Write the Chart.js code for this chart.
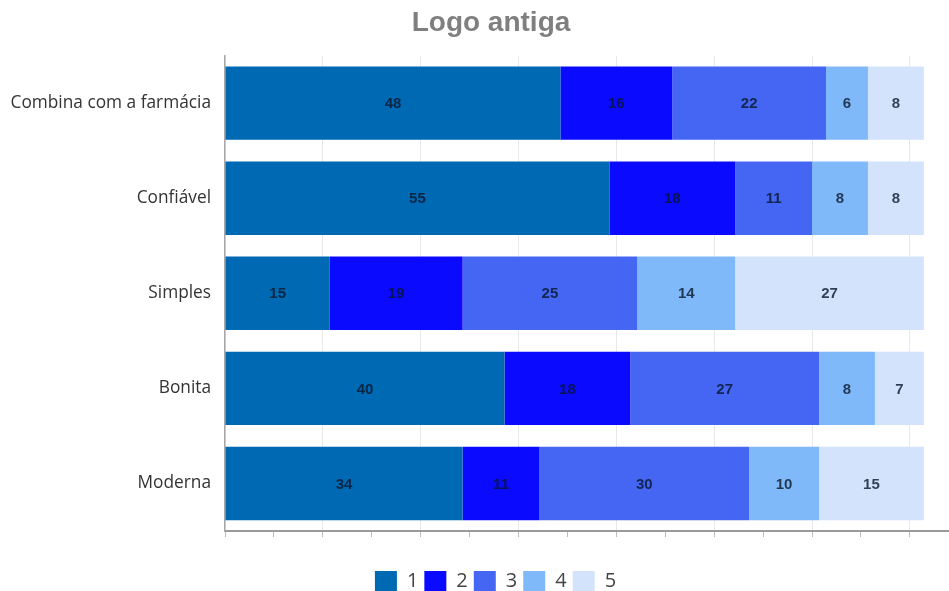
<!DOCTYPE html>
<html>
<head>
<meta charset="utf-8">
<title>Logo antiga</title>
<script src="https://cdn.jsdelivr.net/npm/chart.js@4.4.1/dist/chart.umd.min.js"></script>
<style>
    html, body { margin: 0; padding: 0; background: #ffffff; overflow: hidden; }
    #wrap { position: absolute; left: 0; top: 0; width: 949px; height: 602px; }
</style>
</head>
<body>
<div id="wrap"><canvas id="logoChart"></canvas></div>
<script>
// Survey answers (1..5) per attribute, in percent
const categories = ['Combina com a farmácia', 'Confiável', 'Simples', 'Bonita', 'Moderna'];
const score1 = [48, 55, 15, 40, 34];
const score2 = [16, 18, 19, 18, 11];
const score3 = [22, 11, 25, 27, 30];
const score4 = [6, 8, 14, 8, 10];
const score5 = [8, 8, 27, 7, 15];
const seriesLabels = ['1', '2', '3', '4', '5'];
const seriesColors = ['#0069b4', '#0a0aff', '#4466f2', '#80b9fa', '#d3e3fb'];
const xTicks = [0, 7, 14, 21, 28, 35, 42, 49, 56, 63, 70, 77, 84, 91, 98];

// Value labels in the middle of every segment
const segmentLabels = {
    id: 'segmentLabels',
    afterDatasetsDraw(chart) {
        const ctx = chart.ctx;
        ctx.save();
        ctx.font = 'bold 15px "Liberation Sans", Arial, sans-serif';
        ctx.fillStyle = 'rgba(8, 22, 42, 0.8)';
        ctx.textAlign = 'center';
        ctx.textBaseline = 'middle';
        chart.data.datasets.forEach((ds, i) => {
            const meta = chart.getDatasetMeta(i);
            meta.data.forEach((bar, j) => {
                const cx = (bar.x + bar.base) / 2;
                ctx.fillText(ds.data[j], cx, bar.y + 1);
            });
        });
        ctx.restore();
    }
};

// Title and legend are centred a little right of the canvas middle
const shiftBlocks = {
    id: 'shiftBlocks',
    afterLayout(chart) {
        if (chart.titleBlock) chart.titleBlock.left += 33;
        if (chart.legend) chart.legend.left += 42;
    }
};

const datasets = [score1, score2, score3, score4, score5].map((values, i) => ({
    label: seriesLabels[i],
    data: values,
    backgroundColor: seriesColors[i],
    borderWidth: 0,
    barPercentage: 0.772,
    categoryPercentage: 1
}));

new Chart(document.getElementById('logoChart'), {
    type: 'bar',
    data: { labels: categories, datasets: datasets },
    plugins: [segmentLabels, shiftBlocks],
    options: {
        indexAxis: 'y',
        responsive: true,
        maintainAspectRatio: false,
        animation: false,
        layout: { padding: 0 },
        plugins: {
            title: {
                display: true,
                text: 'Logo antiga',
                color: '#7f7f7f',
                font: { family: '"Liberation Sans", Arial, sans-serif', size: 28, weight: 'bold' },
                padding: { top: 6, bottom: 16 }
            },
            legend: {
                position: 'bottom',
                labels: {
                    boxWidth: 22,
                    boxHeight: 21,
                    padding: 6,
                    color: '#444444',
                    font: { family: '"Open Sans", sans-serif', size: 20 }
                }
            },
            tooltip: { enabled: false }
        },
        scales: {
            x: {
                stacked: true,
                min: 0,
                max: 103.6,
                afterBuildTicks: scale => {
                    scale.ticks = xTicks.map(v => ({ value: v }));
                },
                afterFit: scale => {
                    scale.height = 34;
                },
                ticks: { display: false },
                grid: {
                    color: ctx => (ctx.tick && ctx.tick.value % 14 === 0) ? '#e8e8e8' : 'rgba(0,0,0,0)',
                    tickColor: '#bdbdbd',
                    tickLength: 6,
                    lineWidth: 1
                },
                border: { color: '#9a9a9a', width: 2 }
            },
            y: {
                stacked: true,
                afterFit: scale => {
                    scale.width = 225;
                },
                ticks: {
                    padding: 14,
                    color: '#333333',
                    font: { family: '"Open Sans", sans-serif', size: 17.3 }
                },
                grid: { display: false, drawTicks: false },
                border: { color: '#a8a8a8', width: 1.5 }
            }
        }
    }
});
</script>
</body>
</html>
